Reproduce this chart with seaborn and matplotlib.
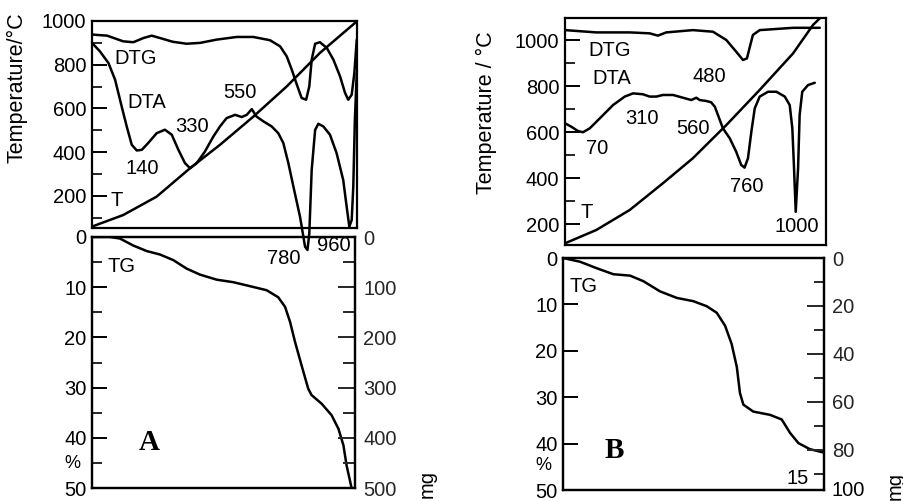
import matplotlib
matplotlib.use("Agg")
import matplotlib.pyplot as plt
from matplotlib.ticker import FixedLocator, NullLocator
import seaborn as sns

W, H = 904, 501

# x axis of every panel: position along the run, 0..100 % of the box width
# ---- A, upper panel (values on the temperature scale, deg C)
a_t_x = [0, 11.8, 24.4, 37, 48.3, 60.9, 73.5, 86, 100]
a_t = [60, 113, 197, 327, 434, 563, 701, 854, 999]

a_dtg_x = [0, 5.7, 11.8, 15.6, 19.4, 22.5, 25.7, 30.5, 35.7, 40.8, 47.1, 54.6,
           60.9, 67.2, 71, 73.5, 75.4, 77.3, 79.1, 80.8, 82, 82.9, 84.2, 86,
           88.6, 91.1, 93.6, 95.5, 96.7, 98, 99, 99.9]
a_dtg = [938, 933, 907, 903, 922, 933, 922, 905, 896, 900, 915, 927,
         927, 912, 884, 838, 777, 709, 648, 640, 701, 823, 896, 903,
         877, 823, 747, 671, 640, 663, 762, 915]

a_dta_x = [0, 3.0, 6.2, 8.7, 11.2, 13.1, 15, 16.9, 18.8, 21.2, 24.4, 27.5, 30.1,
           32.6, 35.1, 37, 39.5, 42.6, 45.8, 48.3, 50.8, 54, 56.5, 58.4, 60.3,
           62.1, 64.7, 67.8, 70.3, 72.2, 74.1, 76, 78.5, 80.4, 81.3, 82, 82.9,
           84.2, 85.4, 87.3, 89.8, 92.3, 94.8, 96.1, 97.1, 98, 98.6, 99.2, 99.9]
a_dta = [900, 861, 808, 732, 609, 518, 434, 408, 411, 442, 487, 503, 480,
         411, 350, 327, 350, 403, 472, 518, 556, 571, 561, 571, 597,
         563, 541, 518, 487, 442, 350, 243, 105, -32, -47, 29, 319,
         502, 530, 518, 480, 396, 273, 151, 60, 90, 243, 548, 762]

# ---- A, lower panel: mass loss in %
a_tg_x = [0, 6.8, 10.6, 15.7, 20.8, 25.9, 30.9, 36, 41.1, 47.4, 53.7, 60.1, 66.4,
          70.8, 73.4, 75.3, 77.2, 79.7, 82.2, 83.5, 87.3, 91.1, 93.7, 95.6,
          96.8, 98.7]
a_tg = [0, 0, 0.3, 1.7, 2.8, 3.5, 4.6, 6.3, 7.5, 8.5, 9.0, 9.8, 10.6,
        12.0, 13.9, 16.9, 20.9, 25.6, 30.2, 31.5, 33.2, 35.5, 38.2, 41.5,
        45.5, 50]

# ---- B, upper panel
b_t_x = [0, 12, 24.8, 37.5, 49, 61.8, 74.6, 87.4, 95, 97.6]
b_t = [116, 174, 261, 377, 486, 630, 783, 942, 1065, 1094]

b_dtg_x = [0, 12, 24.8, 32.4, 35.6, 38.8, 49, 56.7, 61.8, 65.6, 68.2, 69.7,
           71, 72, 74.6, 81, 87.4, 93.8, 97.6]
b_dtg = [1043, 1033, 1033, 1029, 1019, 1033, 1043, 1036, 1000, 949, 913, 920,
         978, 1022, 1043, 1048, 1053, 1053, 1053]

b_dta_x = [0, 2.4, 5, 6.9, 9.5, 13.3, 18.4, 22.9, 26.1, 29.9, 32.4, 35, 37.5,
           41.4, 45.2, 48.4, 50.3, 51.6, 54.1, 56, 57.4, 58.6, 60.5, 63.1, 65.6,
           67.5, 68.8, 70.1, 71.4, 72.7, 74.6, 77.8, 81, 84.2, 86.1, 87.1, 87.7,
           88.4, 89.3, 89.9, 90.9, 93.1, 95.7]
b_dta = [638, 623, 604, 599, 616, 659, 717, 754, 768, 764, 754, 754, 761,
         761, 749, 739, 749, 739, 735, 729, 710, 674, 616, 573, 514,
         457, 445, 486, 601, 703, 754, 775, 775, 754, 717, 616, 457,
         253, 442, 674, 775, 804, 814]

# ---- B, lower panel
b_tg_x = [0, 6.5, 12.9, 19.3, 25.7, 30.8, 37.2, 43.6, 49.9, 55.1, 58.9, 62.1,
          64.6, 66.6, 67.8, 69.1, 72.9, 79.3, 83.8, 87, 90.2, 94.6, 99.7]
b_tg = [0, 0.8, 2.2, 3.5, 3.8, 5.0, 7.2, 8.6, 9.3, 10.4, 11.8, 14.6,
        18.5, 23.5, 29.1, 31.6, 33.1, 33.8, 34.8, 37.7, 39.9, 41.2, 41.9]

temp_major = [200, 400, 600, 800, 1000]
temp_minor = [100, 300, 500, 700, 900]

sns.set_theme(style="ticks")
plt.rcParams["font.family"] = ["Liberation Sans", "DejaVu Sans"]
plt.rcParams["axes.linewidth"] = 1.6
plt.rcParams["axes.edgecolor"] = "black"

FS = 14.5
LW = 1.8

fig = plt.figure(figsize=(W / 100, H / 100), dpi=100)
fig.patch.set_facecolor("white")


def panel(l, t, r, b):
    ax = fig.add_axes([l / W, 1 - b / H, (r - l) / W, (b - t) / H])
    ax.set_facecolor("none")
    ax.set_xlim(0, 100)
    ax.xaxis.set_major_locator(NullLocator())
    ax.xaxis.set_minor_locator(NullLocator())
    ax.tick_params(axis="y", direction="in", labelsize=FS, colors="black",
                   width=1.4, length=11, pad=4)
    ax.tick_params(axis="y", which="minor", direction="in", width=1.4, length=7)
    return ax


def curve(ax, x, y, clip=True):
    sns.lineplot(x=x, y=y, ax=ax, color="black", lw=LW, estimator=None,
                 sort=False, clip_on=clip, solid_joinstyle="round",
                 solid_capstyle="round")
    ax.set_xlabel("")
    ax.set_ylabel("")
    ax.set_xlim(0, 100)


def right_axis(ax, lim, major, minor, minor_len):
    ax2 = ax.twinx()
    ax2.set_ylim(lim, 0)
    ax2.yaxis.set_major_locator(FixedLocator(major))
    ax2.yaxis.set_minor_locator(FixedLocator(minor))
    ax2.tick_params(axis="y", direction="in", labelsize=FS, width=1.4,
                    length=12, pad=6)
    ax2.tick_params(axis="y", which="minor", direction="in", width=1.4,
                    length=minor_len)
    ax2.xaxis.set_major_locator(NullLocator())
    return ax2


def txt(x, y, s, **kw):
    kw.setdefault("fontsize", FS)
    kw.setdefault("ha", "center")
    kw.setdefault("va", "center")
    fig.text(x / W, 1 - y / H, s, color="black", **kw)


# ---------------- A upper
ax = panel(92, 21, 357, 228)
ax.set_ylim((239.7 - 228) / 0.2183, 1000)
ax.yaxis.set_major_locator(FixedLocator(temp_major))
ax.yaxis.set_minor_locator(FixedLocator(temp_minor))
curve(ax, a_t_x, a_t)
curve(ax, a_dtg_x, a_dtg)
curve(ax, a_dta_x, a_dta, clip=False)

# ---------------- A lower
ax = panel(92, 237, 355, 488)
ax.set_ylim(50, 0)
ax.yaxis.set_major_locator(FixedLocator([0, 10, 20, 30, 40, 50]))
ax.yaxis.set_minor_locator(FixedLocator([5, 15, 25, 35, 45]))
curve(ax, a_tg_x, a_tg)
right_axis(ax, 500, [0, 100, 200, 300, 400, 500], [50, 150, 250, 350, 450], 9)

# ---------------- B upper
ax = panel(565, 18, 826, 245)
ax.set_ylim((270 - 245) / 0.23, (270 - 18) / 0.23)
ax.yaxis.set_major_locator(FixedLocator(temp_major))
ax.yaxis.set_minor_locator(FixedLocator(temp_minor))
curve(ax, b_t_x, b_t)
curve(ax, b_dtg_x, b_dtg)
curve(ax, b_dta_x, b_dta)

# ---------------- B lower
ax = panel(563, 258, 824, 490)
ax.set_ylim(50, 0)
ax.yaxis.set_major_locator(FixedLocator([0, 10, 20, 30, 40, 50]))
curve(ax, b_tg_x, b_tg)
right_axis(ax, 50 * 1.934, [0, 20, 40, 60, 80], [10, 30, 50, 70, 90], 7)

# ---------------- annotations
txt(17, 88, "Temperature/°C", rotation=90, fontsize=15.5)
txt(136, 59, "DTG")
txt(147, 103, "DTA")
txt(240, 93, "550")
txt(192, 126, "330")
txt(142, 168, "140")
txt(117, 200, "T")
txt(284, 258, "780")
txt(334, 245, "960")
txt(122, 266, "TG")
txt(149, 443, "A", family="Liberation Serif", fontweight="bold", fontsize=21)
txt(72, 463, "%", fontsize=13)
txt(427, 484, "mg", rotation=90)

txt(486, 113, "Temperature / °C", rotation=90, fontsize=15.5)
txt(610, 51, "DTG")
txt(612, 79, "DTA")
txt(709, 76, "480")
txt(642, 118, "310")
txt(693, 128, "560")
txt(597, 148, "70")
txt(747, 186, "760")
txt(797, 227, "1000")
txt(587, 212, "T")
txt(584, 287, "TG")
txt(614, 451, "B", family="Liberation Serif", fontweight="bold", fontsize=21)
txt(543, 465, "%", fontsize=13)
txt(798, 479, "15")
txt(832, 491, "100", ha="left")
txt(895, 486, "mg", rotation=90)

fig.savefig("out.png", dpi=100, facecolor="white")
